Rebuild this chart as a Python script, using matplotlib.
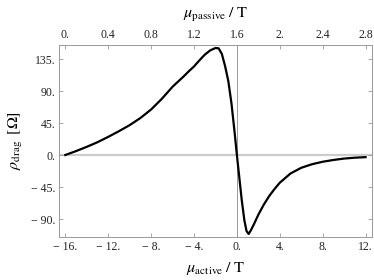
import numpy as np
import matplotlib
matplotlib.use("Agg")
import matplotlib.pyplot as plt

plt.rcParams['font.family'] = ['Liberation Serif', 'DejaVu Serif']
plt.rcParams['mathtext.fontset'] = 'stix'

# drag resistivity vs active-layer field
mu_active = [-16.0, -15.0, -14.0, -13.0, -12.0, -11.0, -10.0, -9.0, -8.0, -7.0,
             -6.0, -5.0, -4.5, -4.0, -3.5, -3.0, -2.5, -2.0, -1.7, -1.4,
             -1.1, -0.8, -0.5, -0.2, 0.0, 0.2, 0.45, 0.7, 0.9, 1.1,
             1.3, 1.6, 2.0, 2.5, 3.0, 3.5, 4.0, 5.0, 6.0, 7.0,
             8.0, 9.0, 10.0, 11.0, 12.0]
rho_drag = [0.0, 5.5, 11.5, 18.0, 25.5, 33.5, 42.0, 52.0, 64.0, 79.0,
            96.0, 110.0, 117.5, 124.5, 133.0, 141.0, 147.0, 150.5, 150.0, 142.0,
            125.0, 104.0, 72.0, 30.0, 0.0, -28.0, -63.0, -92.0, -107.0, -111.0,
            -106.0, -97.0, -84.0, -70.0, -58.0, -48.0, -39.0, -26.0, -18.0, -13.0,
            -9.5, -7.0, -5.0, -3.8, -3.0]

x_ticks = [-16, -12, -8, -4, 0, 4, 8, 12]
x_labels = ['\u2212 16.', '\u2212 12.', '\u2212 8.', '\u2212 4.', '0.', '4.', '8.', '12.']
y_ticks = [-90, -45, 0, 45, 90, 135]
y_labels = ['\u2212 90.', '\u2212 45.', '0.', '45.', '90.', '135.']
top_ticks = [0.0, 0.4, 0.8, 1.2, 1.6, 2.0, 2.4, 2.8]
top_labels = ['0.', '0.4', '0.8', '1.2', '1.6', '2.', '2.4', '2.8']

fig = plt.figure(figsize=(3.74, 2.80), dpi=100)
ax = fig.add_axes([0.1586, 0.1536, 0.8369, 0.6857])

# axes through the origin
ax.axhline(0, color='#cccccc', lw=1.6, zorder=1)
ax.axvline(0, color='#999999', lw=0.7, zorder=1)

ax.plot(mu_active, rho_drag, color='black', lw=1.6, zorder=3)

ax.set_xlim(-16.56, 12.63)
ax.set_ylim(-115.3, 154.7)

ax.set_xticks(x_ticks)
ax.set_xticklabels(x_labels)
ax.set_yticks(y_ticks)
ax.set_yticklabels(y_labels)

for s in ax.spines.values():
    s.set_color('#999999')
    s.set_linewidth(0.7)

ax.tick_params(direction='in', length=3, width=0.6, color='#999999',
               labelsize=8.5, labelcolor='#222222', right=True, pad=3)

sec = ax.secondary_xaxis('top', functions=(lambda a: (a + 16) / 10, lambda p: p * 10 - 16))
sec.set_xticks(top_ticks)
sec.set_xticklabels(top_labels)
sec.tick_params(direction='in', length=3, width=0.6, color='#999999',
                labelsize=8.5, labelcolor='#222222', pad=3)
sec.spines['top'].set_visible(False)
sec.set_xlabel(r'$\mu_{\mathrm{passive}}\;/\;\mathrm{T}$', fontsize=11.5, labelpad=8)

ax.set_xlabel(r'$\mu_{\mathrm{active}}\;/\;\mathrm{T}$', fontsize=11.5, labelpad=5)
ax.set_ylabel(r'$\rho_{\mathrm{drag}}\;\;[\Omega]$', fontsize=11.5, labelpad=4)

fig.savefig('out.png', dpi=100)
